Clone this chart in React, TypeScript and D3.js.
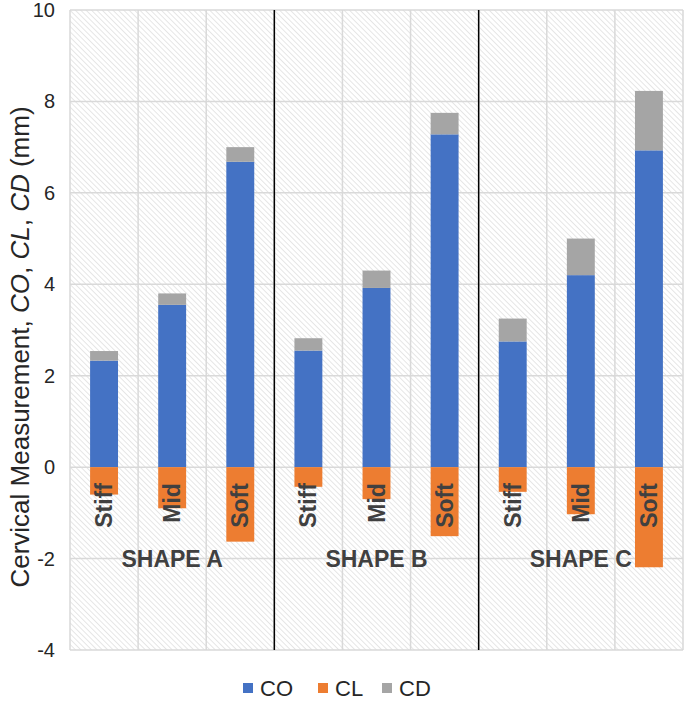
import React from "react";
import * as d3 from "d3";

const groups = ["SHAPE A", "SHAPE B", "SHAPE C"];
const stiffness = ["Stiff", "Mid", "Soft"];
const coValues = [2.33, 3.55, 6.68, 2.55, 3.92, 7.28, 2.75, 4.2, 6.93];
const cdValues = [0.21, 0.25, 0.32, 0.27, 0.38, 0.47, 0.5, 0.8, 1.3];
const clValues = [-0.6, -0.9, -1.63, -0.43, -0.7, -1.51, -0.54, -1.03, -2.19];
const yTicks = [-4, -2, 0, 2, 4, 6, 8, 10];
const seriesNames = ["CO", "CL", "CD"];
const colors = ["#4472C4", "#ED7D31", "#A5A5A5"];

const W = 685;
const H = 710;
const left = 70;
const right = 683;
const top = 10;
const bottom = 650;

export default function App() {
  const cats = groups.flatMap((g) => stiffness.map((s) => `${g}|${s}`));
  const x = d3.scaleBand<string>().domain(cats).range([left, right]).paddingInner(0).paddingOuter(0);
  const y = d3.scaleLinear().domain([-4, 10]).range([bottom, top]);
  const bw = x.bandwidth() * 0.41;
  const font = "'Liberation Sans', Arial, sans-serif";
  const groupX = d3.scaleBand<string>().domain(groups).range([left, right]);

  return (
    <svg width={W} height={H} style={{ position: "absolute", left: 0, top: 0, background: "#fff" }} fontFamily={font}>
      <defs>
        <pattern id="hatch" patternUnits="userSpaceOnUse" width={3.8} height={3.8} patternTransform="rotate(-45)">
          <rect width={3.8} height={3.8} fill="#ffffff" />
          <line x1={0} y1={0} x2={0} y2={3.8} stroke="#d6d6d6" strokeWidth={1.2} />
        </pattern>
      </defs>
      <rect x={left} y={top} width={right - left} height={bottom - top} fill="url(#hatch)" />
      {yTicks.map((t) => (
        <line key={`h${t}`} x1={left} x2={right} y1={y(t)} y2={y(t)} stroke="#d9d9d9" strokeWidth={1.5} />
      ))}
      {cats.map((c) => (
        <line key={`v${c}`} x1={x(c)!} x2={x(c)!} y1={top} y2={bottom} stroke="#d9d9d9" strokeWidth={1.5} />
      ))}
      <line x1={right} x2={right} y1={top} y2={bottom} stroke="#d9d9d9" strokeWidth={1.5} />
      {groups.slice(1).map((g) => (
        <line key={`s${g}`} x1={groupX(g)!} x2={groupX(g)!} y1={top} y2={bottom} stroke="#000" strokeWidth={1.5} />
      ))}
      {cats.map((c, i) => {
        const cx = x(c)! + x.bandwidth() / 2;
        return (
          <g key={c}>
            <rect x={cx - bw / 2} y={y(coValues[i])} width={bw} height={y(0) - y(coValues[i])} fill={colors[0]} />
            <rect x={cx - bw / 2} y={y(coValues[i] + cdValues[i])} width={bw} height={y(coValues[i]) - y(coValues[i] + cdValues[i])} fill={colors[2]} />
            <rect x={cx - bw / 2} y={y(0)} width={bw} height={y(clValues[i]) - y(0)} fill={colors[1]} />
            <text
              transform={`translate(${cx + 8},${y(0) + 16}) rotate(-90)`}
              textAnchor="end"
              fontSize={23}
              fontWeight="bold"
              fill="#404040"
            >
              {stiffness[i % 3]}
            </text>
          </g>
        );
      })}
      {groups.map((g) => (
        <text key={g} x={groupX(g)! + groupX.bandwidth() / 2} y={567} textAnchor="middle" fontSize={23} fontWeight="bold" fill="#404040">
          {g}
        </text>
      ))}
      {yTicks.map((t) => (
        <text key={`t${t}`} x={55} y={y(t) + 7} textAnchor="end" fontSize={20} fill="#262626">
          {t}
        </text>
      ))}
      <text transform={`translate(29,347) rotate(-90)`} textAnchor="middle" fontSize={26} fill="#262626">
        Cervical Measurement, <tspan fontStyle="italic">CO</tspan>, <tspan fontStyle="italic">CL</tspan>,{" "}
        <tspan fontStyle="italic">CD</tspan> (mm)
      </text>
      {seriesNames.map((s, i) => {
        const lx = [243, 318, 382][i];
        return (
          <g key={s}>
            <rect x={lx} y={683} width={10} height={10} fill={colors[i]} />
            <text x={lx + 17} y={696} fontSize={22} fill="#262626">
              {s}
            </text>
          </g>
        );
      })}
    </svg>
  );
}
